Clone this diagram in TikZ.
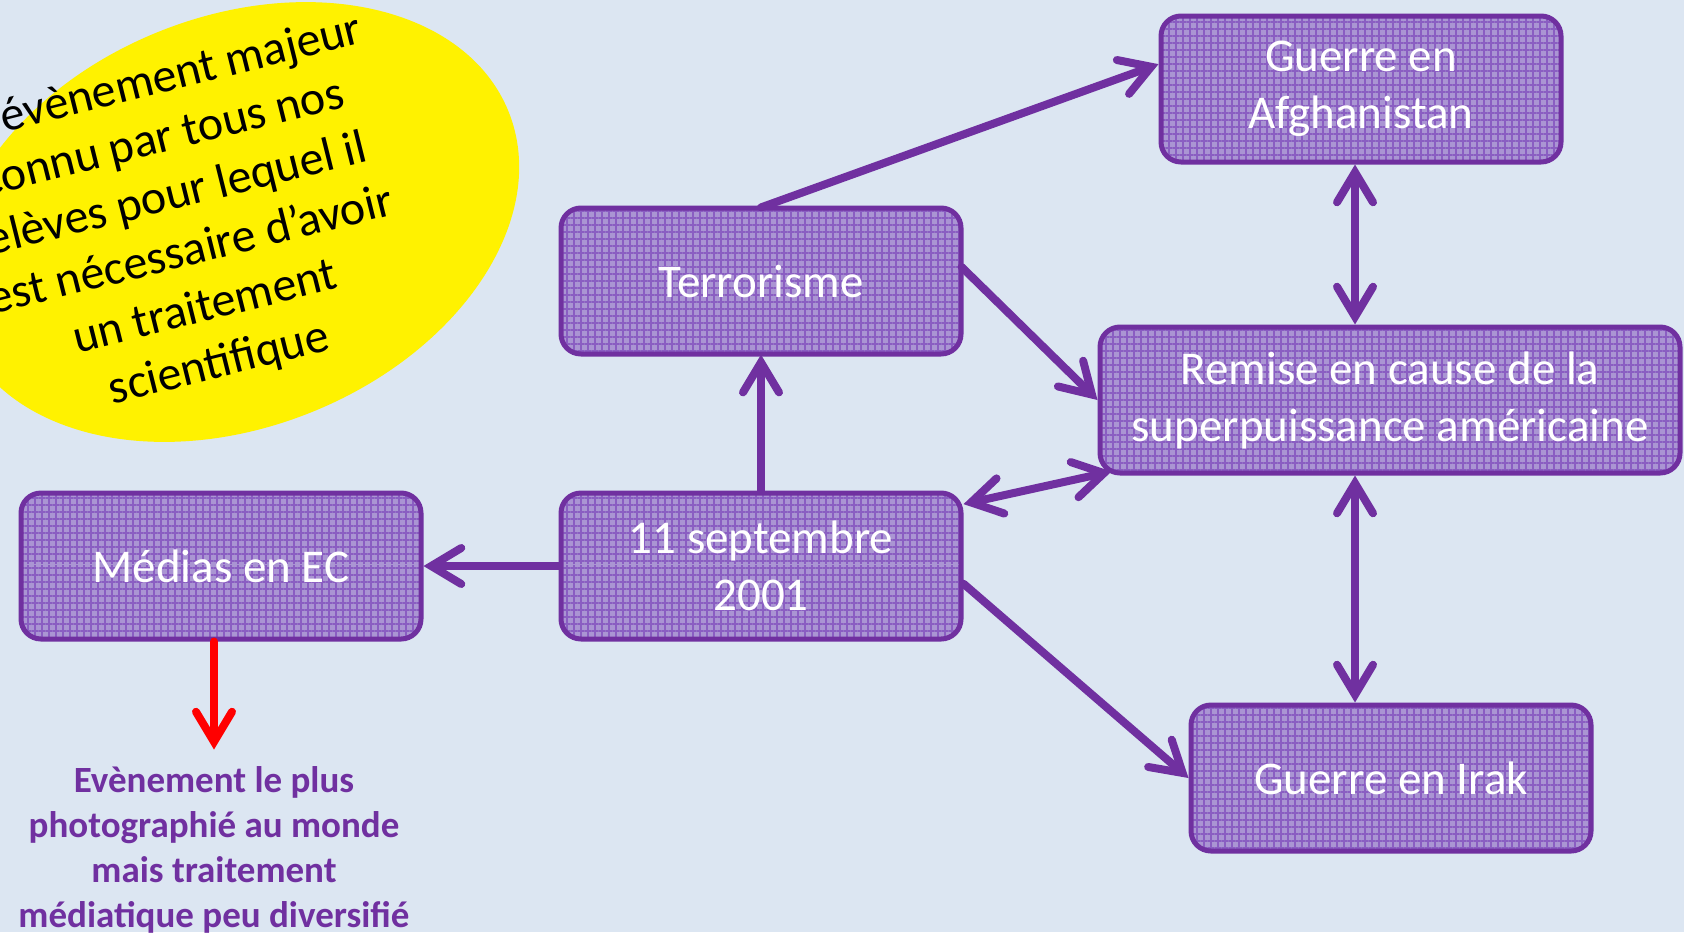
\documentclass[tikz,border=0pt]{standalone}
\usepackage{fontspec}
\setmainfont{Carlito}
\usetikzlibrary{arrows.meta,patterns.meta}
\definecolor{fond}{HTML}{DCE6F2}
\definecolor{mauve}{HTML}{7030A0}
\definecolor{lilas}{HTML}{AA95D3}
\definecolor{grille}{HTML}{8A5EC2}
\begin{document}
\begin{tikzpicture}[x=.5pt, y=-.5pt,
  case/.style={draw=mauve, line width=2.5pt, rounded corners=10pt,
    preaction={fill=lilas}, pattern={Hatch[angle=0, distance=3.5pt, line width=.6pt]},
    pattern color=grille, text=white, align=center, minimum width=200pt,
    minimum height=73pt, font=\fontsize{23.5}{28.5}\selectfont},
  fleche/.style={draw=mauve, line width=4pt, line cap=round},
  >={Straight Barb[length=15pt, width=18pt, line cap=round]}]
  \useasboundingbox[fill=fond] (0, 0) rectangle (1684, 932);
  \clip (0, 0) rectangle (1684, 932);

  \fill[yellow, rotate around={22:(235, 222)}] (235, 222) ellipse [x radius=295, y radius=205];
  \node at(184, 224) [rotate=14, align=center, font=\fontsize{24}{29}\selectfont](bulle)
  {Un évènement majeur\\connu par tous nos\\élèves pour lequel il\\est nécessaire d’avoir\\un traitement\\scientifique};

  \node at(761, 281) [case](terr){Terrorisme};
  \node at(761, 566) [case](sept){11 septembre\\2001};
  \node at(221, 566) [case](medias){Médias en EC};
  \node at(1361, 89) [case](afgh){Guerre en\\Afghanistan};
  \node at(1390, 400) [case, minimum width=290pt](remise){Remise en cause de la\\superpuissance américaine};
  \node at(1391, 778) [case](irak){Guerre en Irak};
  \node at(214, 850) [text=mauve, align=center, font=\bfseries\fontsize{18.5}{22.5}\selectfont](note)
  {Evènement le plus\\photographié au monde\\mais traitement\\médiatique peu diversifié};

  \draw[fleche, ->] (terr.north) -- (afgh.173);
  \draw[fleche, ->] (terr.4) -- (remise.west);
  \draw[fleche, ->] (sept.north) -- (terr.south);
  \draw[fleche, <->] (sept.17) -- ([xshift=7pt, yshift=2pt]remise.south west);
  \draw[fleche, ->] (sept.west) -- (medias.east);
  \draw[fleche, ->] (sept.-5) -- (irak.west);
  \draw[fleche, <->] ([xshift=-3pt]afgh.south) -- ([xshift=-3pt]afgh.south |- remise.north);
  \draw[fleche, <->] ([xshift=-3pt]afgh.south |- remise.south) -- ([xshift=-3pt]afgh.south |- irak.north);
  \draw[fleche, draw=red, ->, shorten >=5pt] (medias.south -| note.north) -- (note.north);
\end{tikzpicture}
\end{document}
